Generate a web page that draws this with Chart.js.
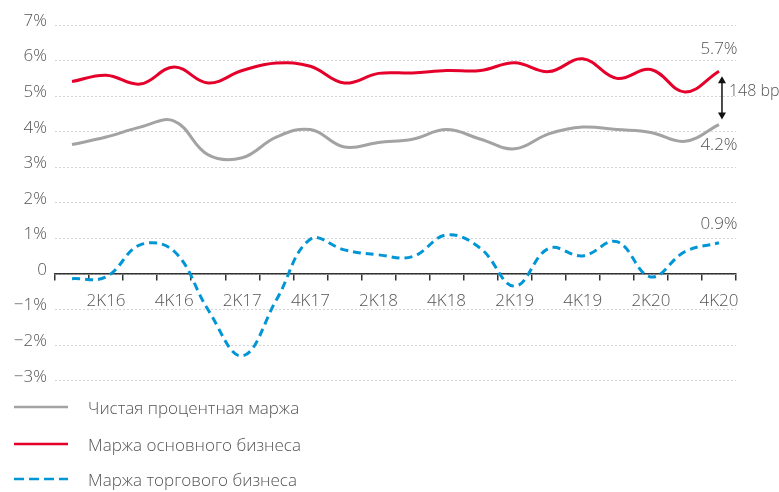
<!DOCTYPE html>
<html>
<head>
<meta charset="utf-8">
<script src="https://cdn.jsdelivr.net/npm/chart.js@4"></script>
<style>
body { margin: 0; background: #fff; font-family: "Open Sans", sans-serif; }
#wrap { position: relative; width: 779px; height: 399px; }
.leg { position: absolute; left: 14px; height: 22px; display: flex; align-items: center; color: #555; font-size: 17px; font-weight: 300; }
.leg svg { margin-right: 20px; }
</style>
</head>
<body>
<div id="wrap"><canvas id="margins"></canvas></div>
<div class="leg" style="top:396px"><svg width="54" height="4"><line x1="0" y1="2" x2="54" y2="2" stroke="#a3a3a3" stroke-width="2.5"/></svg>Чистая процентная маржа</div>
<div class="leg" style="top:433px"><svg width="54" height="4"><line x1="0" y1="2" x2="54" y2="2" stroke="#e4002b" stroke-width="2.5"/></svg>Маржа основного бизнеса</div>
<div class="leg" style="top:468px"><svg width="54" height="4"><line x1="0" y1="2" x2="54" y2="2" stroke="#0096d6" stroke-width="2.5" stroke-dasharray="10 5"/></svg>Маржа торгового бизнеса</div>
<script>
const quarters = ['1K16', '2K16', '3K16', '4K16', '1K17', '2K17', '3K17', '4K17', '1K18', '2K18',
    '3K18', '4K18', '1K19', '2K19', '3K19', '4K19', '1K20', '2K20', '3K20', '4K20'];

const netInterestMargin = [3.64, 3.85, 4.13, 4.30, 3.35, 3.27, 3.85, 4.06, 3.57, 3.70,
    3.79, 4.06, 3.79, 3.52, 3.94, 4.13, 4.06, 3.98, 3.73, 4.20];
const coreMargin = [5.41, 5.59, 5.34, 5.82, 5.37, 5.72, 5.93, 5.84, 5.37, 5.64,
    5.65, 5.72, 5.72, 5.94, 5.69, 6.05, 5.50, 5.75, 5.12, 5.70];
const tradingMargin = [-0.13, -0.08, 0.82, 0.64, -1.01, -2.30, -0.73, 0.98, 0.68, 0.54,
    0.49, 1.10, 0.72, -0.34, 0.72, 0.51, 0.91, -0.08, 0.63, 0.88];

const yValues = [-3, -2, -1, 0, 1, 2, 3, 4, 5, 6, 7];
const yTickLabels = ['−3%', '−2%', '−1%', '0', '1%', '2%', '3%', '4%', '5%', '6%', '7%'];

const endLabels = ['4.2%', '5.7%', '0.9%'];
const gapLabel = '148 bp';

Chart.defaults.font.family = '"Open Sans", sans-serif';
Chart.defaults.font.size = 17;
Chart.defaults.font.weight = 300;
Chart.defaults.color = '#555';

// labels at the last point and the arrow between red and grey lines
const endNotes = {
    id: 'endNotes',
    afterDatasetsDraw(chart) {
        const ctx = chart.ctx;
        const xs = chart.scales.x;
        const ys = chart.scales.y;
        const last = quarters.length - 1;
        const px = xs.getPixelForValue(last);
        const yGrey = ys.getPixelForValue(netInterestMargin[last]);
        const yRed = ys.getPixelForValue(coreMargin[last]);
        const yBlue = ys.getPixelForValue(tradingMargin[last]);

        ctx.save();
        ctx.font = '300 17px "Open Sans", sans-serif';
        ctx.fillStyle = '#555';
        ctx.textAlign = 'center';
        ctx.textBaseline = 'middle';
        ctx.fillText(endLabels[0], px, yGrey + 21);
        ctx.fillText(endLabels[1], px, yRed - 22);
        ctx.fillText(endLabels[2], px, yBlue - 19);

        // double arrow
        const ax = px + 3;
        const top = yRed + 5;
        const bot = yGrey - 5;
        ctx.strokeStyle = '#111';
        ctx.fillStyle = '#111';
        ctx.lineWidth = 1.5;
        ctx.beginPath();
        ctx.moveTo(ax, top + 5);
        ctx.lineTo(ax, bot - 5);
        ctx.stroke();
        ctx.beginPath();
        ctx.moveTo(ax, top);
        ctx.lineTo(ax - 4, top + 7);
        ctx.lineTo(ax + 4, top + 7);
        ctx.closePath();
        ctx.fill();
        ctx.beginPath();
        ctx.moveTo(ax, bot);
        ctx.lineTo(ax - 4, bot - 7);
        ctx.lineTo(ax + 4, bot - 7);
        ctx.closePath();
        ctx.fill();

        ctx.font = '300 16px "Open Sans", sans-serif';
        ctx.fillStyle = '#555';
        ctx.textAlign = 'left';
        ctx.fillText(gapLabel, ax + 7, (top + bot) / 2 - 7);
        ctx.restore();
    }
};

const ctx = document.getElementById('margins').getContext('2d');

const myChart = new Chart(ctx, {
    type: 'line',
    data: {
        labels: quarters,
        datasets: [{
            label: 'Чистая процентная маржа',
            data: netInterestMargin,
            borderColor: '#a3a3a3',
            borderWidth: 3,
            tension: 0.4,
            pointRadius: 0
        }, {
            label: 'Маржа основного бизнеса',
            data: coreMargin,
            borderColor: '#e4002b',
            borderWidth: 3,
            tension: 0.4,
            pointRadius: 0
        }, {
            label: 'Маржа торгового бизнеса',
            data: tradingMargin,
            borderColor: '#0096d6',
            borderWidth: 3,
            borderDash: [8, 5],
            tension: 0.4,
            pointRadius: 0
        }]
    },
    options: {
        responsive: true,
        maintainAspectRatio: false,
        animation: false,
        layout: {
            padding: { top: 25, right: 43, bottom: 0, left: 0 }
        },
        scales: {
            x: {
                position: { y: 0 },
                offset: true,
                grid: {
                    offset: true,
                    drawOnChartArea: false,
                    drawTicks: true,
                    tickLength: 6,
                    color: '#333',
                    lineWidth: 1.5
                },
                border: {
                    display: true,
                    color: '#333',
                    width: 1.5
                },
                ticks: {
                    autoSkip: false,
                    maxRotation: 0,
                    padding: 11,
                    callback: (v, i) => i % 2 === 1 ? quarters[i] : ''
                }
            },
            y: {
                min: -3,
                max: 7,
                afterFit: s => { s.width = 55; },
                grid: {
                    drawTicks: false,
                    color: '#d4d4d4',
                    lineWidth: 1
                },
                border: {
                    display: false,
                    dash: [2, 2]
                },
                ticks: {
                    stepSize: 1,
                    padding: 8,
                    labelOffset: -4,
                    callback: v => yTickLabels[yValues.indexOf(v)]
                }
            }
        },
        plugins: {
            legend: { display: false },
            tooltip: { enabled: false }
        }
    },
    plugins: [endNotes]
});
</script>
</body>
</html>
